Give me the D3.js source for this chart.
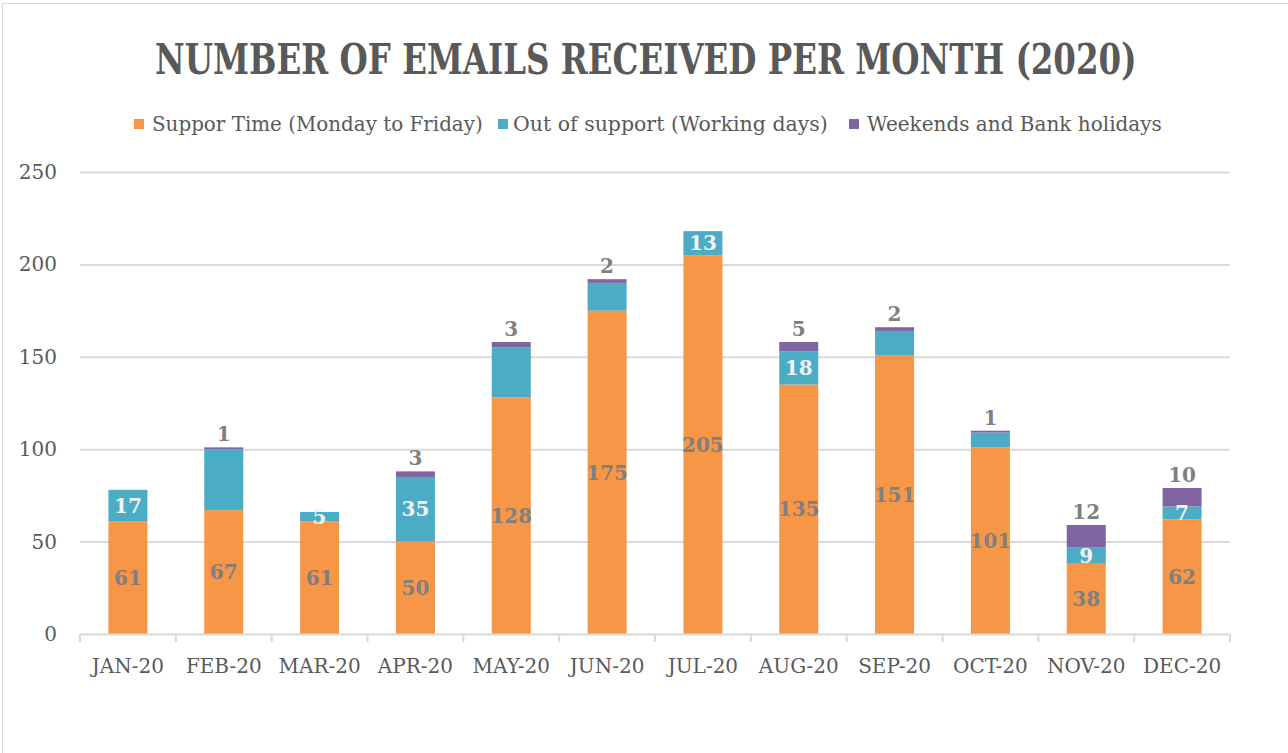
<!DOCTYPE html>
<html>
<head>
<meta charset="utf-8">
<script src="https://cdn.jsdelivr.net/npm/d3@7"></script>
<style>
  html, body { margin: 0; padding: 0; background: #fff; }
  svg { display: block; }
</style>
</head>
<body>
<svg id="chart" width="1288" height="753"></svg>
<script>
const months = ["JAN-20","FEB-20","MAR-20","APR-20","MAY-20","JUN-20","JUL-20","AUG-20","SEP-20","OCT-20","NOV-20","DEC-20"];
const supportTime = [61, 67, 61, 50, 128, 175, 205, 135, 151, 101, 38, 62];
const outOfSupport = [17, 33, 5, 35, 27, 15, 13, 18, 13, 8, 9, 7];
const weekends = [0, 1, 0, 3, 3, 2, 0, 5, 2, 1, 12, 10];
const outLabelShown = [true, false, true, true, false, false, true, true, false, false, true, true];
const seriesNames = ["Suppor Time (Monday to Friday)", "Out of support (Working days)", "Weekends and Bank holidays"];
const yTicks = [0, 50, 100, 150, 200, 250];
const titleText = "NUMBER OF EMAILS RECEIVED PER MONTH (2020)";

const colors = ["#F79646", "#4BACC6", "#8064A2"];
const textGrey = "#595959";
const labelGrey = "#7f7f7f";
const gridColor = "#d9d9d9";
const serif = "'DejaVu Serif', 'Liberation Serif', serif";

const svg = d3.select("#chart");

// chart border
svg.append("rect").attr("x", 2.5).attr("y", 3.5).attr("width", 1300).attr("height", 780)
  .attr("fill", "none").attr("stroke", gridColor).attr("stroke-width", 1);

// fit a text horizontally to a target width by scaling
function fitText(sel, left, baseline, width) {
  const natural = sel.node().getComputedTextLength();
  const k = width / natural;
  sel.attr("x", 0).attr("y", 0)
    .attr("transform", `translate(${left},${baseline}) scale(${k},1)`);
}

// title
const title = svg.append("text").attr("font-family", serif).attr("font-weight", "bold").attr("font-size", 42)
  .attr("fill", textGrey).text(titleText);
fitText(title, 155, 74, 982);

// legend
const legendItems = [
  {sx: 134, tx: 152, tw: 331},
  {sx: 498, tx: 513, tw: 315},
  {sx: 849, tx: 867, tw: 295}
];
const lg = svg.append("g");
legendItems.forEach((it, i) => {
  lg.append("rect").attr("x", it.sx).attr("y", 119).attr("width", 10).attr("height", 10).attr("fill", colors[i]);
  const t = lg.append("text").attr("font-family", serif).attr("font-size", 21)
    .attr("fill", textGrey).text(seriesNames[i]);
  fitText(t, it.tx, 131, it.tw);
});

// scales
const x = d3.scaleBand().domain(months).range([80, 1230]).paddingInner(0.593).paddingOuter(0.2965);
const y = d3.scaleLinear().domain([0, 250]).range([634, 172]);

// gridlines
svg.append("g").selectAll("line").data(yTicks.filter(d => d > 0)).join("line")
  .attr("x1", 80).attr("x2", 1230).attr("y1", d => y(d) + 0.5).attr("y2", d => y(d) + 0.5)
  .attr("stroke", gridColor).attr("stroke-width", 2);

// y axis labels
const yAxis = d3.axisLeft(y).tickValues(yTicks).tickSize(0).tickPadding(0);
const yg = svg.append("g").attr("transform", "translate(57,0)").call(yAxis);
yg.select(".domain").remove();
yg.selectAll("text").attr("font-family", serif).attr("font-size", 20).attr("fill", textGrey);

// stacked data
const rows = months.map((m, i) => ({month: m, s: supportTime[i], o: outOfSupport[i], w: weekends[i], i}));
const stack = d3.stack().keys(["s", "o", "w"]);
const stacked = stack(rows);

const barsG = svg.append("g");
stacked.forEach((layer, k) => {
  barsG.append("g").attr("fill", colors[k]).selectAll("rect").data(layer).join("rect")
    .attr("x", d => x(d.data.month))
    .attr("width", x.bandwidth())
    .attr("y", d => y(d[1]))
    .attr("height", d => y(d[0]) - y(d[1]));
});

// x axis
const xAxis = d3.axisBottom(x).tickSize(0).tickPadding(0);
const xg = svg.append("g").attr("transform", "translate(0,634)").call(xAxis);
xg.select(".domain").remove();
xg.selectAll("text").attr("font-family", serif).attr("font-size", 20).attr("fill", textGrey)
  .attr("dy", null).attr("y", 39);
svg.append("line").attr("x1", 80).attr("x2", 1230).attr("y1", 634.5).attr("y2", 634.5)
  .attr("stroke", gridColor).attr("stroke-width", 2);
const boundaries = d3.range(months.length + 1).map(i => 80 + i * x.step());
svg.append("g").selectAll("line").data(boundaries).join("line")
  .attr("x1", d => d).attr("x2", d => d).attr("y1", 634).attr("y2", 642)
  .attr("stroke", gridColor).attr("stroke-width", 2);

// data labels
const lblG = svg.append("g").attr("font-family", serif).attr("font-weight", "bold")
  .attr("font-size", 20).attr("text-anchor", "middle");
// support time labels
lblG.selectAll("text.s").data(stacked[0]).join("text").attr("class", "s")
  .attr("x", d => x(d.data.month) + x.bandwidth() / 2)
  .attr("y", d => (y(d[0]) + y(d[1])) / 2).attr("dy", "0.36em")
  .attr("fill", labelGrey).text(d => d.data.s);
// out of support labels
lblG.selectAll("text.o").data(stacked[1].filter(d => outLabelShown[d.data.i])).join("text").attr("class", "o")
  .attr("x", d => x(d.data.month) + x.bandwidth() / 2)
  .attr("y", d => (y(d[0]) + y(d[1])) / 2).attr("dy", "0.36em")
  .attr("fill", "#f2f2f2").text(d => d.data.o);
// weekend labels (above bar)
lblG.selectAll("text.w").data(stacked[2].filter(d => d.data.w > 0)).join("text").attr("class", "w")
  .attr("x", d => x(d.data.month) + x.bandwidth() / 2)
  .attr("y", d => y(d[1]) - 6)
  .attr("fill", labelGrey).text(d => d.data.w);
</script>
</body>
</html>
